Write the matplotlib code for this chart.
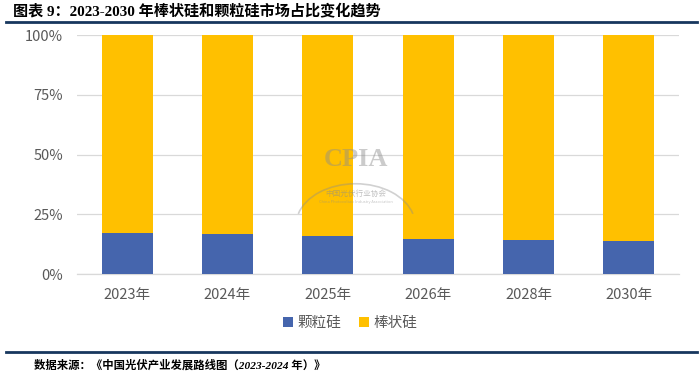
import matplotlib
matplotlib.use("Agg")
import matplotlib.pyplot as plt
from matplotlib.patches import Arc

plt.rcParams['font.family'] = ['Noto Sans CJK SC', 'DejaVu Sans']

years = ["2023年", "2024年", "2025年", "2026年", "2028年", "2030年"]
granular = [17.3, 16.9, 15.9, 14.8, 14.4, 14.0]   # 颗粒硅 (%)
rod = [100 - g for g in granular]                  # 棒状硅 (%)
series_names = ["颗粒硅", "棒状硅"]
yticks = [0, 25, 50, 75, 100]
ytick_labels = ["0%", "25%", "50%", "75%", "100%"]

blue = "#4565AD"
yellow = "#FFC000"
navy = "#17375E"
gray_txt = "#595959"

fig = plt.figure(figsize=(7, 3.75), dpi=100)
ax = fig.add_axes([0.110, 0.2693, 0.860, 0.6366])

x = list(range(len(years)))
ax.bar(x, granular, width=0.51, color=blue, label=series_names[0], zorder=3)
ax.bar(x, rod, width=0.51, bottom=granular, color=yellow, label=series_names[1], zorder=3)

ax.set_xlim(-0.5, len(years) - 0.5)
ax.set_ylim(0, 100)
ax.set_yticks(yticks)
ax.set_yticklabels(ytick_labels)
ax.set_xticks(x)
ax.set_xticklabels(years)
ax.grid(axis='y', color="#D9D9D9", linewidth=0.9, zorder=0)
for s in ["top", "right", "left"]:
    ax.spines[s].set_visible(False)
ax.spines["bottom"].set_color("#D9D9D9")
ax.spines["bottom"].set_linewidth(0.9)
ax.tick_params(axis='both', length=0, colors=gray_txt, labelsize=10.5)
ax.tick_params(axis='y', pad=10)
ax.tick_params(axis='x', pad=10)

leg = fig.legend(loc="center", bbox_to_anchor=(0.5, 0.138), ncol=2, frameon=False,
                 fontsize=10.5, handlelength=0.7, handleheight=0.7, handletextpad=0.3,
                 columnspacing=1.2)
for t in leg.get_texts():
    t.set_color(gray_txt)

# watermark
fig.text(0.508, 0.575, "CPIA", ha="center", va="center", fontsize=19, fontweight="bold",
         color="#8C8C8C", alpha=0.45, family=["Liberation Serif"])
arc = Arc((0.508, 0.40), 0.17, 0.22, theta1=20, theta2=160, transform=fig.transFigure,
          color="#8C8C8C", alpha=0.4, linewidth=1.2)
fig.add_artist(arc)
fig.text(0.508, 0.483, "中国光伏行业协会", ha="center", va="center", fontsize=5.5,
         color="#8C8C8C", alpha=0.55)
fig.text(0.508, 0.462, "China Photovoltaic Industry Association", ha="center", va="center",
         fontsize=2.8, color="#8C8C8C", alpha=0.5)

# title
fig.text(0.018, 0.972, "图表 9：2023-2030 年棒状硅和颗粒硅市场占比变化趋势", ha="left", va="center",
         fontsize=10.9, fontweight="bold", color="black",
         family=["Liberation Serif", "Noto Sans CJK SC"])
fig.add_artist(plt.Line2D([0.008, 0.995], [0.941, 0.941], color=navy, linewidth=2.0,
                          transform=fig.transFigure))

# source
fig.add_artist(plt.Line2D([0.008, 0.995], [0.062, 0.062], color=navy, linewidth=2.0,
                          transform=fig.transFigure))
fig.text(0.048, 0.028, "数据来源：《中国光伏产业发展路线图（2023-2024 年）》", ha="left", va="center",
         fontsize=8.2, fontweight="bold", fontstyle="italic", color="black",
         family=["Liberation Serif", "Noto Sans CJK SC"])

fig.savefig("out.png", dpi=100)
